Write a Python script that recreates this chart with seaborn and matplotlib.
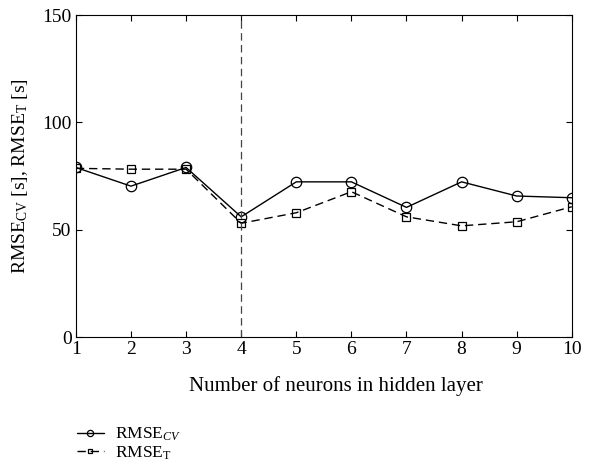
import matplotlib
matplotlib.use("Agg")
import matplotlib.pyplot as plt
import seaborn as sns
import pandas as pd

neurons = [1, 2, 3, 4, 5, 6, 7, 8, 9, 10]
rmse_cv = [79.0, 70.3, 79.0, 56.0, 72.3, 72.3, 60.4, 72.3, 65.7, 64.9]
rmse_t = [78.6, 78.2, 78.2, 53.0, 57.9, 67.7, 56.0, 51.8, 53.7, 60.7]
best_n = 4

sns.set_theme(style="ticks")
plt.rcParams['font.family'] = ['Liberation Serif', 'DejaVu Serif']
plt.rcParams['mathtext.fontset'] = 'custom'
plt.rcParams['mathtext.rm'] = 'Liberation Serif'
plt.rcParams['mathtext.it'] = 'Liberation Serif:italic'
plt.rcParams['mathtext.bf'] = 'Liberation Serif:bold'
plt.rcParams['text.color'] = 'black'
plt.rcParams['axes.labelcolor'] = 'black'
plt.rcParams['xtick.color'] = 'black'
plt.rcParams['ytick.color'] = 'black'

fig = plt.figure(figsize=(6.07, 4.72), dpi=100)
ax = fig.add_axes([0.125, 0.286, 0.817, 0.682])

df = pd.DataFrame({"n": neurons, "cv": rmse_cv, "t": rmse_t})
sns.lineplot(data=df, x="n", y="cv", ax=ax, color="black", lw=1.0,
             marker="o", markersize=7.5, markerfacecolor="none",
             markeredgecolor="black", markeredgewidth=0.9,
             label=r"RMSE$_{CV}$")
sns.lineplot(data=df, x="n", y="t", ax=ax, color="black", lw=1.0,
             linestyle=(0, (6, 3.5)),
             marker="s", markersize=6, markerfacecolor="none",
             markeredgecolor="black", markeredgewidth=0.9,
             label=r"RMSE$_\mathrm{T}$")
ax.axvline(best_n, color="#444444", lw=0.9, linestyle=(0, (6, 3.5)))

ax.set_xlim(1, 10)
ax.set_ylim(0, 150)
ax.set_xticks(neurons)
ax.set_yticks([0, 50, 100, 150])
ax.tick_params(direction="in", top=True, right=True, labelsize=14, length=4,
               width=0.8, pad=3)
for s in ax.spines.values():
    s.set_linewidth(0.8)
    s.set_color("black")
ax.set_xlabel("Number of neurons in hidden layer", fontsize=15)
ax.xaxis.set_label_coords(0.525, -0.12)
ax.set_ylabel(r"RMSE$_\mathrm{CV}$ [s], RMSE$_\mathrm{T}$ [s]", fontsize=14, labelpad=9)

leg = ax.legend(loc="upper left", bbox_to_anchor=(-0.012, -0.255), frameon=False,
                fontsize=12.5, handlelength=1.55, labelspacing=0.05, borderaxespad=0,
                handletextpad=0.65, markerscale=0.6)

fig.savefig("out.png", dpi=100)
